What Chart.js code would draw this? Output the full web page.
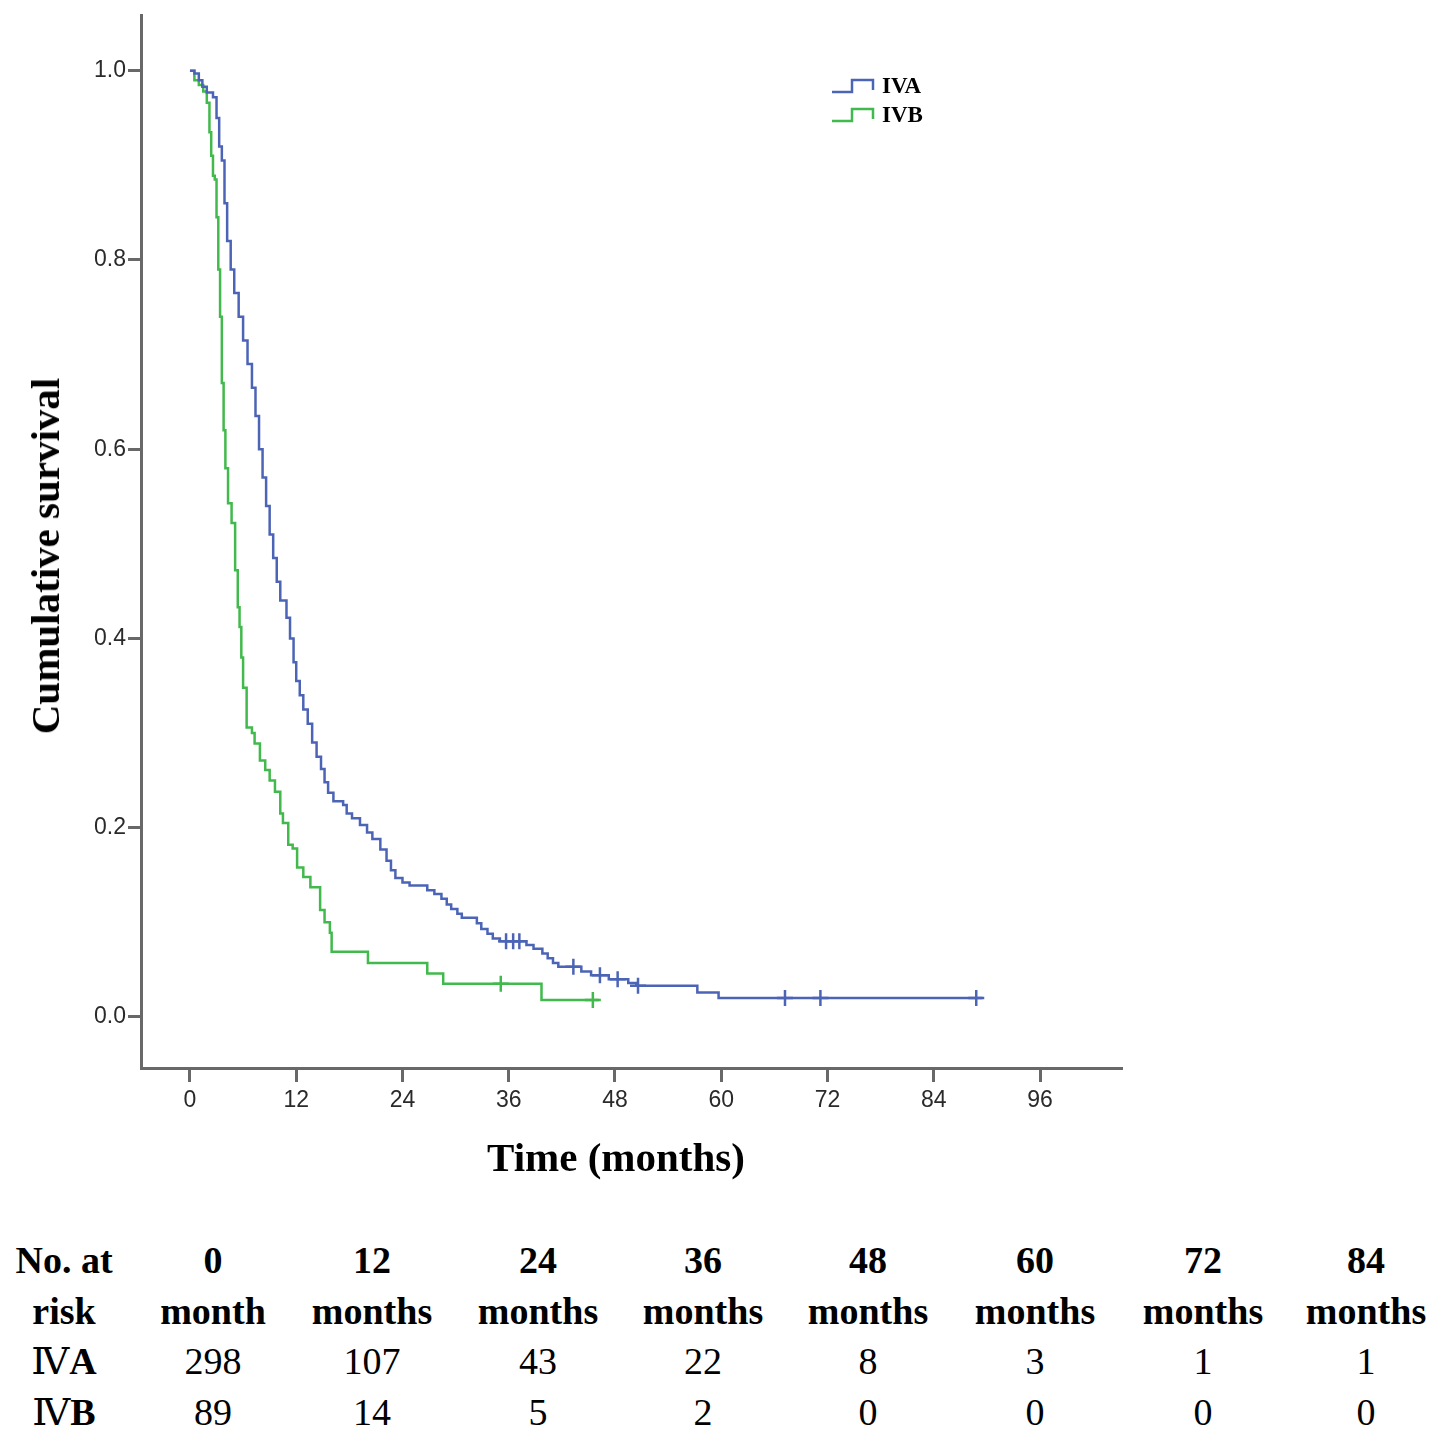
<!DOCTYPE html>
<html>
<head>
<meta charset="utf-8">
<script src="https://cdn.jsdelivr.net/npm/chart.js@4.4.1/dist/chart.umd.min.js"></script>
<style>
  html, body { margin: 0; padding: 0; background: #fff; }
  #page { position: relative; width: 1441px; height: 1441px; overflow: hidden; background: #fff; }
  #plot { position: absolute; left: 0; top: 0; }
  .title { position: absolute; font-family: "Liberation Serif", "Times New Roman", serif; font-weight: bold; font-size: 41px; color: #000; white-space: nowrap; }
  #ytitle { left: 45px; top: 556px; transform: translate(-50%, -50%) rotate(-90deg); }
  #xtitle { left: 616px; top: 1157px; transform: translate(-50%, -50%); }
  .cell { position: absolute; font-family: "Liberation Serif", "DejaVu Serif", serif; font-size: 38px; color: #000; white-space: nowrap; transform: translateX(-50%); line-height: 1; }
  .bold { font-weight: bold; }
</style>
</head>
<body>
<div id="page">
  <canvas id="plot" width="1441" height="1200"></canvas>
  <div class="title" id="ytitle">Cumulative survival</div>
  <div class="title" id="xtitle">Time (months)</div>
  <div id="risk"></div>
</div>
<script>
// Kaplan-Meier steps (months, cumulative survival)
let ivaTime = [0, 0.5, 1.0, 1.4, 1.9, 2.6, 3.0, 3.3, 3.6, 3.9, 4.2, 4.6, 5.0, 5.5, 6.0, 6.5, 7.0, 7.4, 7.8, 8.2,
  8.6, 9.0, 9.4, 9.8, 10.2, 10.9, 11.3, 11.7, 12.0, 12.4, 12.8, 13.3, 13.8, 14.3, 14.8, 15.2, 15.6, 16.2, 17.3, 17.7,
  18.3, 19.2, 20.0, 20.6, 21.5, 22.2, 22.7, 23.2, 24.0, 24.8, 26.8, 27.6, 28.4, 29.0, 29.5, 30.2, 30.7, 32.4, 32.9, 33.6,
  34.2, 35.0, 38.0, 38.8, 39.8, 40.4, 41.0, 41.6, 44.2, 45.3, 47.3, 49.5, 50.4, 57.3, 59.7, 89.5];
let ivaSurv = [1.0, 0.997, 0.99, 0.983, 0.977, 0.972, 0.95, 0.92, 0.905, 0.86, 0.82, 0.79, 0.765, 0.74, 0.715, 0.69, 0.665, 0.635, 0.60, 0.57,
  0.54, 0.51, 0.485, 0.46, 0.44, 0.422, 0.40, 0.375, 0.355, 0.34, 0.325, 0.31, 0.29, 0.275, 0.262, 0.248, 0.237, 0.228, 0.224, 0.215,
  0.21, 0.203, 0.195, 0.188, 0.177, 0.165, 0.155, 0.147, 0.142, 0.139, 0.134, 0.13, 0.125, 0.119, 0.114, 0.109, 0.105, 0.099, 0.093, 0.088,
  0.083, 0.080, 0.076, 0.072, 0.067, 0.062, 0.057, 0.053, 0.048, 0.044, 0.040, 0.036, 0.033, 0.026, 0.020, 0.020];
let ivaCensorTime = [35.7, 36.5, 37.2, 43.3, 46.3, 48.3, 50.6, 67.2, 71.2, 88.8];
let ivaCensorSurv = [0.080, 0.080, 0.080, 0.053, 0.044, 0.040, 0.033, 0.020, 0.020, 0.020];

let ivbTime = [0, 0.5, 1.0, 1.5, 1.9, 2.2, 2.4, 2.6, 2.8, 3.0, 3.2, 3.4, 3.6, 3.8, 4.0, 4.3, 4.7, 5.1, 5.4, 5.6,
  5.8, 6.0, 6.4, 7.0, 7.3, 7.9, 8.5, 9.0, 9.6, 10.2, 10.5, 11.1, 11.6, 12.1, 12.8, 13.6, 14.7, 15.2, 15.8, 16.0,
  20.1, 26.8, 28.6, 39.7, 46.2];
let ivbSurv = [1.0, 0.99, 0.985, 0.978, 0.966, 0.935, 0.91, 0.889, 0.885, 0.845, 0.79, 0.74, 0.67, 0.62, 0.58, 0.543, 0.522, 0.472, 0.433, 0.412,
  0.38, 0.348, 0.306, 0.30, 0.289, 0.271, 0.261, 0.25, 0.238, 0.215, 0.205, 0.182, 0.178, 0.158, 0.148, 0.137, 0.113, 0.10, 0.089, 0.069,
  0.057, 0.046, 0.035, 0.018, 0.018];
let ivbCensorTime = [35.1, 45.5];
let ivbCensorSurv = [0.035, 0.018];

let xTicks = [0, 12, 24, 36, 48, 60, 72, 84, 96];
let yTicks = [0.0, 0.2, 0.4, 0.6, 0.8, 1.0];

let groups = ['IVA', 'IVB'];
let groupColors = ['#4c64b6', '#41b94c'];

// number at risk table
let riskHead1 = ['0', '12', '24', '36', '48', '60', '72', '84'];
let riskHead2 = ['month', 'months', 'months', 'months', 'months', 'months', 'months', 'months'];
let riskIVA = [298, 107, 43, 22, 8, 3, 1, 1];
let riskIVB = [89, 14, 5, 2, 0, 0, 0, 0];

function toPoints(xs, ys) {
    let pts = [];
    for (let i = 0; i < xs.length; i++) {
        pts.push({x: xs[i], y: ys[i]});
    }
    return pts;
}

// step shaped legend like the SPSS output
const stepLegend = {
    id: 'stepLegend',
    afterDraw(chart) {
        let ctx = chart.ctx;
        let rows = [{y: 92, c: groupColors[0], t: groups[0]}, {y: 121, c: groupColors[1], t: groups[1]}];
        ctx.save();
        rows.forEach(function (r) {
            ctx.strokeStyle = r.c;
            ctx.lineWidth = 2.5;
            ctx.beginPath();
            ctx.moveTo(832, r.y);
            ctx.lineTo(852, r.y);
            ctx.lineTo(852, r.y - 12);
            ctx.lineTo(873, r.y - 12);
            ctx.lineTo(873, r.y - 2);
            ctx.stroke();
            ctx.fillStyle = '#000';
            ctx.font = 'bold 23px "Liberation Serif", serif';
            ctx.textBaseline = 'alphabetic';
            ctx.fillText(r.t, 882, r.y + 1);
        });
        ctx.restore();
    }
};

let axisColor = '#686868';

new Chart(document.getElementById('plot'), {
    type: 'scatter',
    data: {
        datasets: [
            {label: groups[0], data: toPoints(ivaTime, ivaSurv), showLine: true, stepped: true,
             borderColor: groupColors[0], borderWidth: 2.5, pointRadius: 0, fill: false},
            {label: groups[1], data: toPoints(ivbTime, ivbSurv), showLine: true, stepped: true,
             borderColor: groupColors[1], borderWidth: 2.5, pointRadius: 0, fill: false},
            {label: groups[0] + ' censored', data: toPoints(ivaCensorTime, ivaCensorSurv), showLine: false,
             pointStyle: 'cross', pointRadius: 8, borderColor: groupColors[0], borderWidth: 2.5},
            {label: groups[1] + ' censored', data: toPoints(ivbCensorTime, ivbCensorSurv), showLine: false,
             pointStyle: 'cross', pointRadius: 8, borderColor: groupColors[1], borderWidth: 2.5}
        ]
    },
    options: {
        responsive: false,
        devicePixelRatio: 1,
        animation: false,
        layout: {padding: {left: 0, top: 15, right: 319, bottom: 0}},
        plugins: {legend: {display: false}, tooltip: {enabled: false}},
        scales: {
            x: {
                type: 'linear', min: -5.53, max: 105.26,
                afterBuildTicks: function (s) { s.ticks = xTicks.map(function (v) { return {value: v}; }); },
                afterFit: function (s) { s.height = 132; },
                ticks: {color: '#2a2a2a', font: {family: '"Liberation Sans", Arial, sans-serif', size: 23}, padding: 5,
                        callback: function (v) { return v; }},
                grid: {drawOnChartArea: false, drawTicks: true, tickLength: 14, tickWidth: 3, tickColor: axisColor},
                border: {display: true, color: axisColor, width: 3}
            },
            y: {
                type: 'linear', min: -0.0539, max: 1.058,
                afterBuildTicks: function (s) { s.ticks = yTicks.map(function (v) { return {value: v}; }); },
                afterFit: function (s) { s.width = 141; },
                ticks: {color: '#2a2a2a', font: {family: '"Liberation Sans", Arial, sans-serif', size: 23}, padding: 2,
                        callback: function (v) { return Number(v).toFixed(1); }},
                grid: {drawOnChartArea: false, drawTicks: true, tickLength: 13, tickWidth: 3, tickColor: axisColor},
                border: {display: true, color: axisColor, width: 3}
            }
        }
    },
    plugins: [stepLegend]
});

// number at risk rows
(function () {
    let risk = document.getElementById('risk');
    let colX = [213, 372, 538, 703, 868, 1035, 1203, 1366];
    let rowTop = [1241, 1292, 1342, 1393];
    function cell(x, y, html, bold) {
        let d = document.createElement('div');
        d.className = 'cell' + (bold ? ' bold' : '');
        d.style.left = x + 'px';
        d.style.top = y + 'px';
        d.innerHTML = html;
        risk.appendChild(d);
    }
    cell(64, rowTop[0], 'No. at', true);
    cell(64, rowTop[1], 'risk', true);
    cell(64, rowTop[2], 'Ⅳ<b>A</b>', false);
    cell(64, rowTop[3], 'Ⅳ<b>B</b>', false);
    for (let i = 0; i < colX.length; i++) {
        cell(colX[i], rowTop[0], riskHead1[i], true);
        cell(colX[i], rowTop[1], riskHead2[i], true);
        cell(colX[i], rowTop[2], riskIVA[i], false);
        cell(colX[i], rowTop[3], riskIVB[i], false);
    }
})();
</script>
</body>
</html>
